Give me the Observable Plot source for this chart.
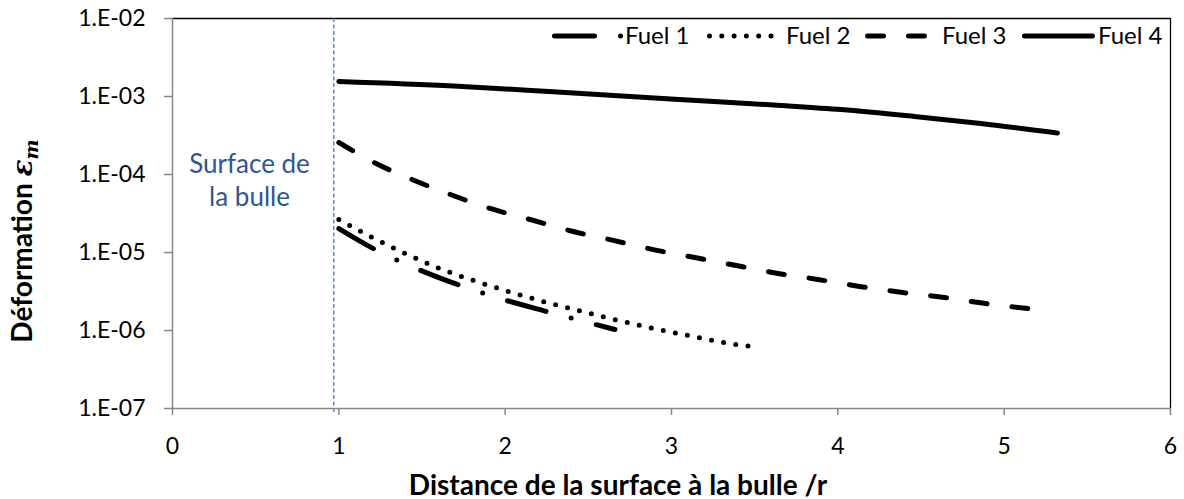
<!DOCTYPE html>
<html>
<head>
<meta charset="utf-8">
<script src="https://cdn.jsdelivr.net/npm/d3@7"></script>
<script src="https://cdn.jsdelivr.net/npm/@observablehq/plot@0.6"></script>
<style>
  body { margin: 0; background: #fff; }
  #chart { position: relative; width: 1184px; height: 499px; }
</style>
</head>
<body>
<div id="chart"></div>
<script>
// Strain in the fluid vs. distance from the bubble surface (normalised by r)
const seriesNames = ["Fuel 1", "Fuel 2", "Fuel 3", "Fuel 4"];

const fuel1Dist   = [1.00, 1.23, 1.48, 1.73, 1.99, 2.25, 2.52, 2.66];
const fuel1Strain = [2.03e-5, 1.06e-5, 6.05e-6, 3.78e-6, 2.49e-6, 1.75e-6, 1.23e-6, 1.03e-6];

const fuel2Dist   = [1.00, 1.20, 1.40, 1.59, 1.81, 2.02, 2.23, 2.44, 2.66, 2.87, 3.10, 3.31, 3.53];
const fuel2Strain = [2.65e-5, 1.56e-5, 9.7e-6, 6.43e-6, 4.38e-6, 3.16e-6, 2.35e-6, 1.80e-6, 1.38e-6, 1.09e-6, 8.63e-7, 7.02e-7, 6.05e-7];

const fuel3Dist   = [1.00, 1.21, 1.44, 1.67, 1.91, 2.15, 2.41, 2.65, 2.89, 3.14, 3.39, 3.64, 3.88, 4.13, 4.39, 4.64, 4.89, 5.19];
const fuel3Strain = [2.57e-4, 1.43e-4, 8.63e-5, 5.54e-5, 3.67e-5, 2.65e-5, 1.86e-5, 1.43e-5, 1.09e-5, 8.63e-6, 6.81e-6, 5.38e-6, 4.51e-6, 3.67e-6, 3.07e-6, 2.65e-6, 2.22e-6, 1.86e-6];

const fuel4Dist   = [1.00, 1.69, 2.29, 3.02, 3.66, 4.02, 4.46, 4.86, 5.32];
const fuel4Strain = [1.556e-3, 1.365e-3, 1.15e-3, 9.2e-4, 7.67e-4, 6.8e-4, 5.55e-4, 4.51e-4, 3.4e-4];

const xTicks = [0, 1, 2, 3, 4, 5, 6];
const yTicks = [1e-7, 1e-6, 1e-5, 1e-4, 1e-3, 1e-2];

const bubbleSurface = 0.97;
const bubbleLabel = ["Surface de", "la bulle"];
const bubbleLabelX = [0.463, 0.463];
const bubbleLabelY = [1.355e-4, 5.12e-5];

const xTitle = "Distance de la surface à la bulle /r";
const yTitle = "Déformation ";

// line styles (round caps turn zero-length dashes into dots)
const dashes = ["40,26,0,26", "0,12.3", "16,25", null];

const FONT = "Lato, 'Open Sans', sans-serif";
const TICK_FONT = 23;
const rows = (xs, ys) => xs.map((x, i) => ({x, y: ys[i]}));
const series = [
  rows(fuel1Dist, fuel1Strain),
  rows(fuel2Dist, fuel2Strain),
  rows(fuel3Dist, fuel3Strain),
  rows(fuel4Dist, fuel4Strain)
];

const fmtExp = d => "1.E-" + String(-Math.round(Math.log10(d))).padStart(2, "0");

const lineMarks = series.map((data, i) =>
  Plot.line(data, {
    x: "x", y: "y", curve: "monotone-x",
    stroke: "#000", strokeWidth: 5,
    strokeLinecap: "round", strokeLinejoin: "round",
    strokeDasharray: dashes[i] ?? undefined
  })
);

const chart = Plot.plot({
  width: 1184,
  height: 499,
  marginLeft: 172,
  marginRight: 14,
  marginTop: 18,
  marginBottom: 91,
  style: {fontFamily: FONT, background: "#fff", overflow: "visible"},
  x: {domain: [0, 6]},
  y: {type: "log", domain: [1e-7, 1e-2]},
  marks: [
    Plot.ruleY([1e-2], {stroke: "#000", strokeWidth: 1.3}),
    Plot.ruleX([6], {stroke: "#000", strokeWidth: 1.3}),
    Plot.ruleX([bubbleSurface], {stroke: "#4472c4", strokeWidth: 1.3, strokeDasharray: "4,2.5", insetBottom: -4}),
    Plot.ruleX([0], {stroke: "#868686", strokeWidth: 1.5}),
    Plot.ruleY([1e-7], {stroke: "#868686", strokeWidth: 1.5}),
    // tick marks only; labels drawn as text marks below
    Plot.axisX({ticks: xTicks, tickSize: 7, stroke: "#868686", strokeWidth: 1.5, label: null, tickFormat: () => ""}),
    Plot.axisY({ticks: yTicks, tickSize: 8, stroke: "#868686", strokeWidth: 1.5, label: null, tickFormat: () => ""}),
    Plot.text(xTicks, {x: d => d, frameAnchor: "bottom", dy: 29, lineAnchor: "top",
      text: d => String(d), fontSize: TICK_FONT, fill: "#000"}),
    Plot.text(yTicks, {y: d => d, frameAnchor: "left", dx: -27, textAnchor: "end",
      text: fmtExp, fontSize: TICK_FONT, fill: "#000"}),
    ...lineMarks,
    Plot.text(bubbleLabel, {
      x: (d, i) => bubbleLabelX[i], y: (d, i) => bubbleLabelY[i], text: d => d,
      fill: "#2f5597", fontSize: 26, lineAnchor: "middle", textAnchor: "middle"
    })
  ]
});

document.getElementById("chart").appendChild(chart);

const svg = d3.select(chart);

// axis titles
svg.append("text")
  .attr("x", 618).attr("y", 495)
  .attr("text-anchor", "middle")
  .attr("font-family", FONT).attr("font-weight", "bold").attr("font-size", 28)
  .attr("fill", "#000")
  .text(xTitle);

const yt = svg.append("text")
  .attr("transform", "translate(32,241) rotate(-90)")
  .attr("text-anchor", "middle")
  .attr("font-family", FONT).attr("font-weight", "bold").attr("font-size", 28)
  .attr("fill", "#000");
yt.append("tspan").text(yTitle);
yt.append("tspan").attr("font-style", "italic").attr("font-family", "'DejaVu Serif', serif").text("ε");
yt.append("tspan").attr("font-style", "italic").attr("font-family", "'DejaVu Serif', serif")
  .attr("font-size", 19).attr("dy", 6).text("m");

// legend
const legendSampleX = [554.5, 709.5, 867.5, 1024.5];
const legendTextX = [625, 786, 942, 1098];
const legendY = 36;
const lg = svg.append("g");
seriesNames.forEach((name, i) => {
  const ln = lg.append("line")
    .attr("x1", legendSampleX[i]).attr("x2", legendSampleX[i] + 68)
    .attr("y1", legendY).attr("y2", legendY)
    .attr("stroke", "#000").attr("stroke-width", 5)
    .attr("stroke-linecap", "round");
  if (dashes[i]) ln.attr("stroke-dasharray", dashes[i]);
  lg.append("text")
    .attr("x", legendTextX[i]).attr("y", legendY).attr("dy", "0.35em")
    .attr("text-anchor", "start")
    .attr("font-family", FONT).attr("font-size", 24).attr("fill", "#000")
    .text(name);
});
</script>
</body>
</html>
